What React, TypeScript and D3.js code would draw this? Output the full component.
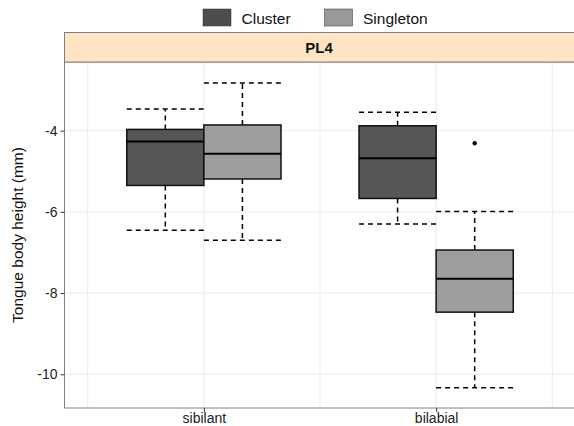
import * as d3 from 'd3'
import { useEffect, useRef } from 'react'

// data
const categories = ['sibilant', 'bilabial']
const groups = ['Cluster', 'Singleton']
const groupColors = ['#4d4d4d', '#999999']
// [whiskerLow, q1, median, q3, whiskerHigh] per category, per group
const clusterStats = [
  [-6.45, -5.35, -4.27, -3.97, -3.47],
  [-6.3, -5.67, -4.68, -3.88, -3.55],
]
const singletonStats = [
  [-6.7, -5.19, -4.57, -3.86, -2.83],
  [-10.33, -8.47, -7.65, -6.94, -5.99],
]
const outliers = [{ category: 'bilabial', group: 'Singleton', value: -4.31 }]
const yTicks = [-10, -8, -6, -4]
const panelTitle = 'PL4'
const yTitle = 'Tongue body height (mm)'

const W = 574
const H = 426
const FONT = '"Liberation Sans", Arial, Helvetica, sans-serif'

export default function App() {
  const ref = useRef<SVGSVGElement>(null)

  useEffect(() => {
    document.body.style.margin = '0'
    const svg = d3.select(ref.current)
    svg.selectAll('*').remove()

    const panel = { left: 64.5, right: 575.5, top: 62, bottom: 408 }

    const x = d3.scaleLinear().domain([0.4, 2.6]).range([panel.left, panel.right])
    const y = d3.scaleLinear().domain([-10.83, -2.31]).range([panel.bottom, panel.top])
    const dodge = d3.scaleBand().domain(groups).range([-0.332, 0.332])

    // panel background + grid
    svg
      .append('rect')
      .attr('x', panel.left)
      .attr('y', panel.top)
      .attr('width', panel.right - panel.left)
      .attr('height', panel.bottom - panel.top)
      .attr('fill', '#fff')

    const grid = svg.append('g').attr('stroke', '#ebebeb').attr('stroke-width', 1)
    yTicks.forEach((t) => {
      grid
        .append('line')
        .attr('x1', panel.left)
        .attr('x2', panel.right)
        .attr('y1', y(t))
        .attr('y2', y(t))
    })
    ;[0.5, 1, 1.5, 2, 2.5].forEach((v) => {
      grid
        .append('line')
        .attr('x1', x(v))
        .attr('x2', x(v))
        .attr('y1', panel.top)
        .attr('y2', panel.bottom)
    })

    // boxes
    const boxes = svg.append('g')
    categories.forEach((cat, ci) => {
      groups.forEach((g, gi) => {
        const s = gi === 0 ? clusterStats[ci] : singletonStats[ci]
        const x0 = x(ci + 1 + (dodge(g) as number))
        const x1 = x(ci + 1 + (dodge(g) as number) + dodge.bandwidth())
        const xm = (x0 + x1) / 2
        const b = boxes.append('g')

        // whiskers (dashed)
        const dashed = b
          .append('g')
          .attr('stroke', '#000')
          .attr('stroke-width', 1.5)
          .attr('stroke-dasharray', '5,4')
        dashed.append('line').attr('x1', xm).attr('x2', xm).attr('y1', y(s[3])).attr('y2', y(s[4]))
        dashed.append('line').attr('x1', xm).attr('x2', xm).attr('y1', y(s[1])).attr('y2', y(s[0]))
        dashed.append('line').attr('x1', x0).attr('x2', x1).attr('y1', y(s[4])).attr('y2', y(s[4]))
        dashed.append('line').attr('x1', x0).attr('x2', x1).attr('y1', y(s[0])).attr('y2', y(s[0]))

        b.append('rect')
          .attr('x', x0)
          .attr('y', y(s[3]))
          .attr('width', x1 - x0)
          .attr('height', y(s[1]) - y(s[3]))
          .attr('fill', groupColors[gi])
          .attr('fill-opacity', 0.95)
          .attr('stroke', '#111')
          .attr('stroke-width', 1.5)
        b.append('line')
          .attr('x1', x0)
          .attr('x2', x1)
          .attr('y1', y(s[2]))
          .attr('y2', y(s[2]))
          .attr('stroke', '#000')
          .attr('stroke-width', 2)

        outliers
          .filter((o) => o.category === cat && o.group === g)
          .forEach((o) => {
            b.append('circle').attr('cx', xm).attr('cy', y(o.value)).attr('r', 2.2).attr('fill', '#000')
          })
      })
    })

    // panel border (left + bottom visible)
    svg
      .append('rect')
      .attr('x', panel.left)
      .attr('y', panel.top)
      .attr('width', panel.right - panel.left)
      .attr('height', panel.bottom - panel.top)
      .attr('fill', 'none')
      .attr('stroke', '#808080')
      .attr('stroke-width', 1)

    // strip
    svg
      .append('rect')
      .attr('x', panel.left)
      .attr('y', 32.5)
      .attr('width', panel.right - panel.left)
      .attr('height', panel.top - 32.5)
      .attr('fill', '#ffe4c4')
      .attr('stroke', '#808080')
      .attr('stroke-width', 1)
    svg
      .append('text')
      .attr('x', (panel.left + panel.right) / 2 - 1)
      .attr('y', 52.5)
      .attr('text-anchor', 'middle')
      .attr('font-family', FONT)
      .attr('font-weight', 'bold')
      .attr('font-size', 15)
      .attr('fill', '#111')
      .text(panelTitle)

    // y axis
    const yAxis = d3
      .axisLeft(y)
      .tickValues(yTicks)
      .tickSize(4)
      .tickPadding(3)
      .tickFormat((d) => d3.format('d')(d as number).replace('−', '-'))
    const ya = svg.append('g').attr('transform', `translate(${panel.left},0)`).call(yAxis)
    ya.select('.domain').remove()
    ya.selectAll('line').attr('stroke', '#333')
    ya.selectAll('text')
      .attr('font-family', FONT)
      .attr('font-size', 14)
      .attr('fill', '#222')

    // x axis
    const xAxis = d3
      .axisBottom(x)
      .tickValues([1, 2])
      .tickSize(4)
      .tickPadding(1)
      .tickFormat((d) => categories[(d as number) - 1])
    const xa = svg.append('g').attr('transform', `translate(0,${panel.bottom})`).call(xAxis)
    xa.select('.domain').remove()
    xa.selectAll('line').attr('stroke', '#333')
    xa.selectAll('text')
      .attr('font-family', FONT)
      .attr('font-size', 14)
      .attr('fill', '#222')

    // y title
    svg
      .append('text')
      .attr('transform', `translate(23,${(panel.top + panel.bottom) / 2}) rotate(-90)`)
      .attr('text-anchor', 'middle')
      .attr('font-family', FONT)
      .attr('font-size', 15.5)
      .attr('fill', '#111')
      .text(yTitle)

    // legend
    const legendX = [203, 324.5]
    groups.forEach((g, gi) => {
      const lg = svg.append('g').attr('transform', `translate(${legendX[gi]},9)`)
      lg.append('rect')
        .attr('width', 28)
        .attr('height', 17)
        .attr('fill', groupColors[gi])
        .attr('stroke', '#333')
        .attr('stroke-width', 0.5)
      lg.append('text')
        .attr('x', 38.5)
        .attr('y', 14.5)
        .attr('font-family', FONT)
        .attr('font-size', 15.5)
        .attr('fill', '#111')
        .text(g)
    })
  }, [])

  return <svg ref={ref} width={W} height={H} style={{ display: 'block' }} />
}
